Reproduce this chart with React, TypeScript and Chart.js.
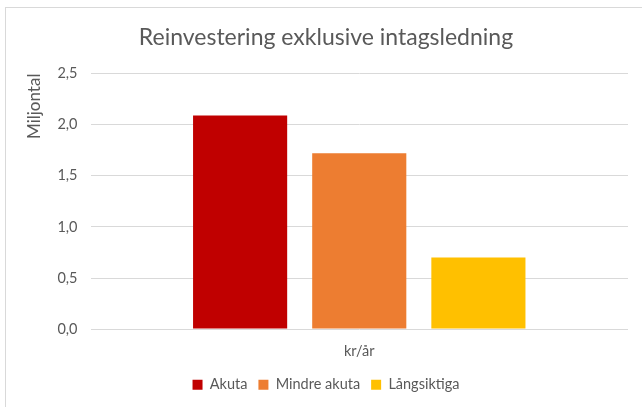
import React, { useEffect, useRef } from "react";
import { Chart, registerables } from "chart.js";

Chart.register(...registerables);

const titleText = "Reinvestering exklusive intagsledning";
const categories = ["kr/år"];
const seriesNames = ["Akuta", "Mindre akuta", "Långsiktiga"];
const akuta = [2.09];
const mindreAkuta = [1.72];
const langsiktiga = [0.7];
const seriesColors = ["#C00000", "#ED7D31", "#FFC000"];
const yTitle = "Miljontal";

const FONT = "Lato, 'Open Sans', sans-serif";
const TEXT = "#595959";

export default function App() {
  const ref = useRef<HTMLCanvasElement | null>(null);

  useEffect(() => {
    if (!ref.current) return;
    const values = [akuta, mindreAkuta, langsiktiga];
    const chart = new Chart(ref.current, {
      type: "bar",
      data: {
        labels: categories,
        datasets: seriesNames.map((name, i) => ({
          label: name,
          data: values[i],
          backgroundColor: seriesColors[i],
          borderWidth: 0,
          categoryPercentage: 0.665,
          barPercentage: 0.79,
        })),
      },
      options: {
        animation: false,
        responsive: false,
        maintainAspectRatio: false,
        layout: { padding: { left: 18, right: 20, top: 4, bottom: 5 } },
        plugins: {
          title: {
            display: true,
            text: titleText,
            color: TEXT,
            font: { family: FONT, size: 23, weight: "normal" },
            padding: { top: 12, bottom: 22 },
          },
          legend: {
            position: "bottom",
            labels: {
              boxWidth: 10,
              boxHeight: 10,
              color: TEXT,
              font: { family: FONT, size: 14.5 },
              padding: 11,
            },
          },
          tooltip: { enabled: false },
        },
        scales: {
          x: {
            grid: { display: false },
            border: { display: false },
            ticks: {
              color: TEXT,
              font: { family: FONT, size: 14.5 },
              padding: 6,
            },
          },
          y: {
            min: 0,
            max: 2.5,
            border: { display: false },
            grid: { color: "#d9d9d9", lineWidth: 1, drawTicks: false },
            ticks: {
              stepSize: 0.5,
              color: TEXT,
              font: { family: FONT, size: 14.5 },
              padding: 13,
              callback: (v: any) => Number(v).toFixed(1).replace(".", ","),
            },
            title: {
              display: true,
              text: yTitle,
              align: "end",
              color: TEXT,
              font: { family: FONT, size: 17 },
              padding: { top: 0, bottom: 0 },
            },
          },
        },
      },
    });
    return () => chart.destroy();
  }, []);

  return (
    <div style={{ position: "absolute", left: 0, top: 0, width: 642, height: 407, overflow: "hidden", background: "#fff" }}>
      <div
        style={{
          position: "absolute",
          left: 5,
          top: 7,
          width: 660,
          height: 420,
          borderLeft: "1px solid #d9d9d9",
          borderTop: "1px solid #d9d9d9",
        }}
      />
      <canvas
        ref={ref}
        width={642}
        height={399}
        style={{ position: "absolute", left: 6, top: 8, width: 642, height: 399 }}
      />
    </div>
  );
}
